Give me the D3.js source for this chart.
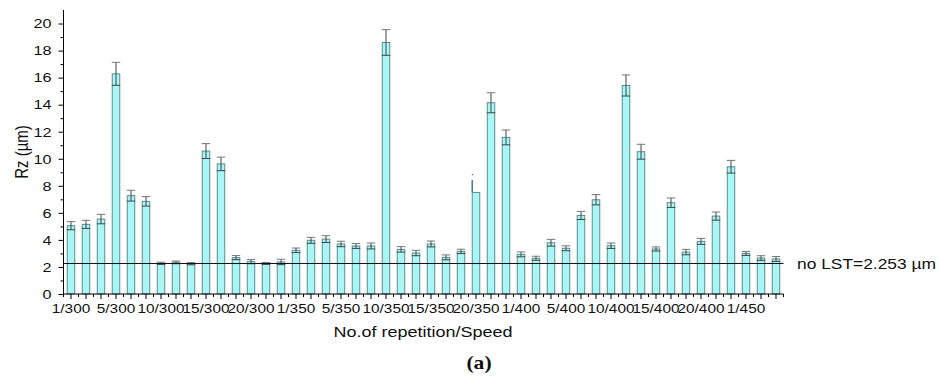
<!DOCTYPE html>
<html>
<head>
<meta charset="utf-8">
<script src="https://cdn.jsdelivr.net/npm/d3@7"></script>
<style>
  body{margin:0;background:#fff;}
  text{font-family:"Liberation Sans",Arial,sans-serif;fill:#111;}
</style>
</head>
<body>
<div id="chart"></div>
<script>
// one label per group of three bars
const tickLabels=["1/300","5/300","10/300","15/300","20/300",
  "1/350","5/350","10/350","15/350","20/350",
  "1/400","5/400","10/400","15/400","20/400","1/450"];
const rz=[5.05,5.15,5.54,16.28,7.27,6.85,2.27,2.34,2.24,10.57,9.62,2.69,
  2.39,2.26,2.37,3.23,3.97,4.06,3.70,3.55,3.55,18.6,3.30,3.03,
  3.70,2.71,3.15,7.51,14.14,11.58,2.93,2.64,3.79,3.38,5.81,6.97,
  3.57,15.42,10.52,3.33,6.75,3.10,3.89,5.76,9.41,3.00,2.66,2.59];
const rzErr=[.3,.3,.35,.85,.4,.35,.08,.1,.08,.55,.5,.15,
  .15,.07,.2,.17,.22,.25,.2,.18,.22,.95,.2,.2,
  .22,.18,.16,0,.74,.55,.18,.15,.25,.18,.3,.38,
  .2,.78,.55,.15,.35,.2,.22,.3,.47,.15,.17,.18];
const baseline=2.253;
// bar 28 of the source shows a broken render: edge line higher than the fill
const glitchBar=27, glitchEdge=8.43, glitchDot=8.87;
const yTicks=d3.range(0,21,2);

(function(){
  const W=940,H=379,sx=1.2;
  const cats=tickLabels.flatMap(l=>[l+"|a",l+"|b",l+"|c"]);
  const svg=d3.select("#chart").append("svg").attr("width",W).attr("height",H);

  const x=d3.scaleBand().domain(cats).range([63.5,783.5]).paddingInner(.5).paddingOuter(.25);
  const y=d3.scaleLinear().domain([0,21]).range([294,10]);
  const bw=x.bandwidth();

  // bars
  svg.append("g").selectAll("rect").data(rz).join("rect")
    .attr("x",(d,i)=>x(cats[i]))
    .attr("y",d=>y(d))
    .attr("width",bw)
    .attr("height",d=>y(0)-y(d))
    .attr("fill","#a8f6f6")
    .attr("stroke","#5d8c8c").attr("stroke-width",1);

  // glitch bar: edge line + stray dot
  const gx=x(cats[glitchBar]);
  svg.append("line")
    .attr("x1",gx).attr("x2",gx)
    .attr("y1",y(rz[glitchBar])).attr("y2",y(glitchEdge))
    .attr("stroke","#4f8080").attr("stroke-width",1.6);
  svg.append("rect")
    .attr("x",gx-.5).attr("y",y(glitchDot)).attr("width",1.2).attr("height",1.2)
    .attr("fill","#555");

  // error bars
  const eb=svg.append("g").attr("stroke","#444").attr("stroke-width",1);
  rz.forEach((v,i)=>{
    const e=rzErr[i];
    if(!e) return;
    const cx=x(cats[i])+bw/2, hw=bw/2+.5;
    eb.append("line").attr("x1",cx).attr("x2",cx).attr("y1",y(v-e)).attr("y2",y(v+e));
    eb.append("line").attr("x1",cx-hw).attr("x2",cx+hw).attr("y1",y(v+e)).attr("y2",y(v+e)).attr("stroke","#777");
    eb.append("line").attr("x1",cx-hw).attr("x2",cx+hw).attr("y1",y(v-e)).attr("y2",y(v-e));
  });

  // reference line
  svg.append("line")
    .attr("x1",63.5).attr("x2",783.5)
    .attr("y1",y(baseline)).attr("y2",y(baseline))
    .attr("stroke","#111").attr("stroke-width",1);

  // y axis
  const ya=svg.append("g").attr("transform","translate(63.5,0)")
    .call(d3.axisLeft(y).tickValues(yTicks).tickSize(5).tickPadding(5).tickSizeOuter(0));
  ya.selectAll(".tick text").attr("font-size",13.5).attr("transform",`scale(${sx},1)`)
    .style("font-family","Liberation Sans, Arial, sans-serif");
  ya.select(".domain").attr("d","M0,294V10");
  ya.selectAll(".minor").data(d3.range(1,21,2)).join("line")
    .attr("class","minor").attr("x1",-3).attr("x2",0)
    .attr("y1",d=>y(d)+.5).attr("y2",d=>y(d)+.5).attr("stroke","#000");

  // x axis: major tick per bar, minor between bars
  const xa=svg.append("g").attr("transform","translate(0,294)")
    .call(d3.axisBottom(x).tickSize(5).tickPadding(5).tickSizeOuter(0)
      .tickFormat((d,i)=>i%3===0?d.split("|")[0]:""));
  xa.selectAll(".tick text").attr("font-size",12.8).attr("transform",`scale(${sx},1)`)
    .style("font-family","Liberation Sans, Arial, sans-serif");
  xa.select(".domain").attr("d","M63.5,0H783.5");
  xa.selectAll(".minor").data(d3.range(cats.length+1)).join("line")
    .attr("class","minor")
    .attr("x1",i=>63.5+i*x.step()).attr("x2",i=>63.5+i*x.step())
    .attr("y1",0).attr("y2",3).attr("stroke","#000");

  // titles
  svg.append("text")
    .attr("transform","translate(28,152) rotate(-90) scale(1,1.2)")
    .attr("text-anchor","middle").attr("font-size",15)
    .text("Rz (µm)");
  svg.append("text")
    .attr("transform",`translate(423,337) scale(${sx},1)`)
    .attr("text-anchor","middle").attr("font-size",15)
    .text("No.of repetition/Speed");
  svg.append("text")
    .attr("transform",`translate(797,${y(baseline)+5}) scale(${sx},1)`)
    .attr("font-size",14.5)
    .text(`no LST=${baseline} µm`);
  svg.append("text")
    .attr("transform",`translate(479,369) scale(${sx},1)`)
    .attr("text-anchor","middle").attr("font-size",18).attr("font-weight","bold")
    .style("font-family","Liberation Serif, serif")
    .text("(a)");
})();
</script>
</body>
</html>
